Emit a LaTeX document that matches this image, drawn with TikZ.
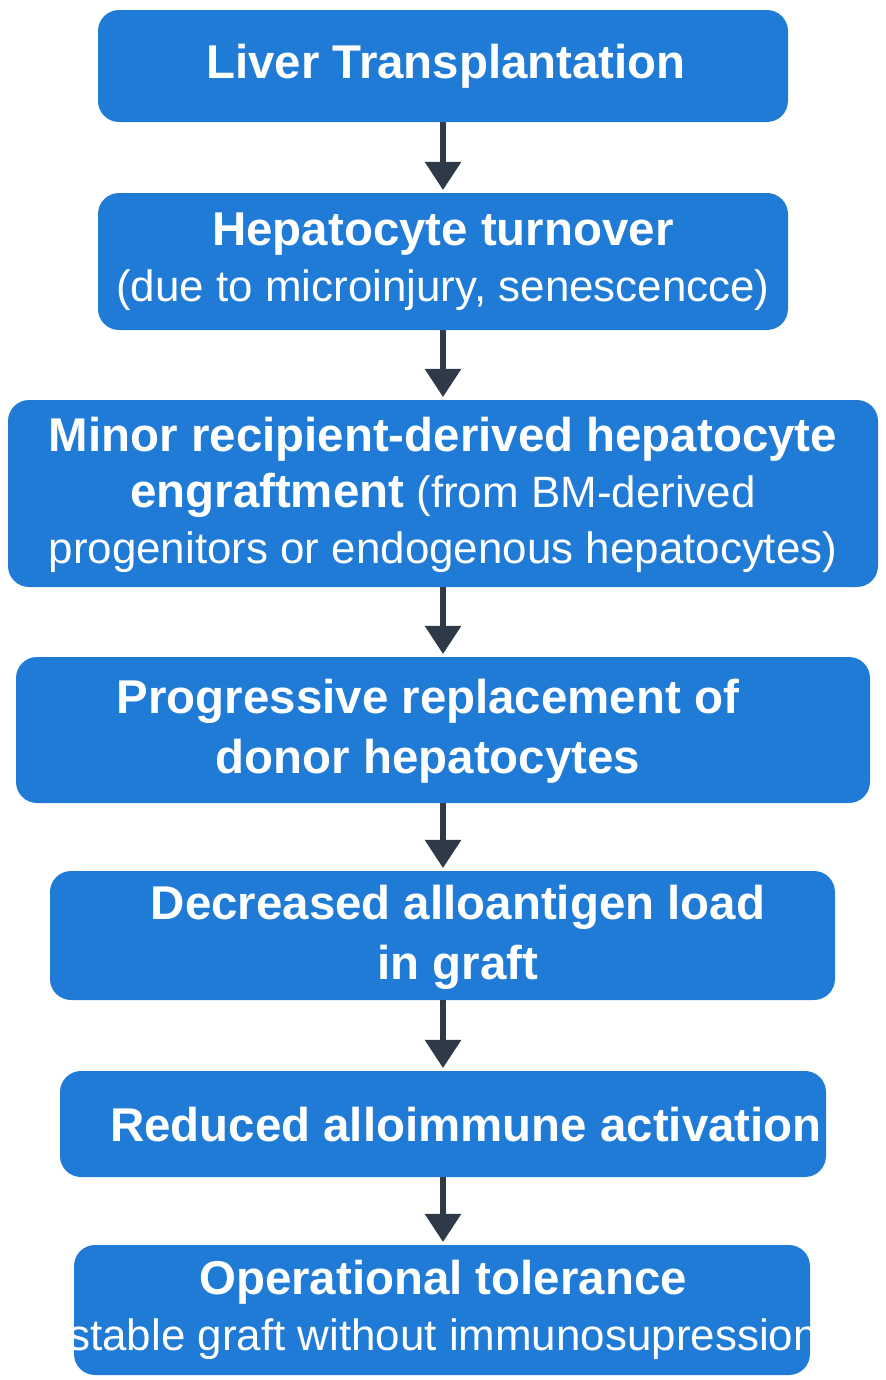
\documentclass[tikz,border=0pt]{standalone}
\usepackage{fontspec}
\setmainfont{Liberation Sans}
\usetikzlibrary{arrows.meta}
\definecolor{boxblue}{HTML}{1F7BD6}
\definecolor{arr}{HTML}{2E3A48}
\begin{document}
\begin{tikzpicture}[x=0.02cm,y=-0.02cm,
  bx/.style={fill=boxblue,draw=none,rounded corners=12pt},
  tx/.style={text=white,align=center,font=\fontsize{25}{32}\selectfont},
  bt/.style={text=white,align=center,font=\fontsize{27}{34}\selectfont\bfseries},
  ar/.style={draw=arr,line width=3.2pt,-{Triangle[length=16pt,width=20pt]}}]
\useasboundingbox (0,0) rectangle (886,1380);
\fill[white] (0,0) rectangle (886,1380);
\path[bx] (98,10) rectangle (788,122);
\node[bt] (b1) at (446,66) {Liver Transplantation};
\path[bx] (98,193) rectangle (788,330);
\node[tx] (b2) at (443,262) {{\fontsize{27}{32}\selectfont\bfseries Hepatocyte turnover}\\(due to microinjury, senescencce)};
\path[bx] (8,400) rectangle (878,587);
\node[tx] (b3) at (443,495) {{\fontsize{27}{32}\selectfont\bfseries Minor recipient-derived hepatocyte}\\{\fontsize{27}{32}\selectfont\bfseries engraftment} (from BM-derived\\progenitors or endogenous hepatocytes)};
\path[bx] (16,657) rectangle (870,803);
\node[bt] (b4) at (428,731) {Progressive replacement of\\donor hepatocytes};
\path[bx] (50,871) rectangle (835,1000);
\node[bt] (b5) at (458,937) {Decreased alloantigen load\\in graft};
\path[bx] (60,1071) rectangle (826,1177);
\node[bt] (b6) at (466,1125) {Reduced alloimmune activation};
\path[bx] (74,1245) rectangle (810,1375);
\node[tx] (b7) at (443,1310) {{\fontsize{27}{32}\selectfont\bfseries Operational tolerance}\\(stable graft without immunosupression)};
\coordinate (a1s) at (443,122); \coordinate (a1e) at (443,190);
\coordinate (a2s) at (443,330); \coordinate (a2e) at (443,397);
\coordinate (a3s) at (443,587); \coordinate (a3e) at (443,654);
\coordinate (a4s) at (443,803); \coordinate (a4e) at (443,868);
\coordinate (a5s) at (443,1000); \coordinate (a5e) at (443,1068);
\coordinate (a6s) at (443,1177); \coordinate (a6e) at (443,1242);
\foreach \i in {1,...,6} \draw[ar] (a\i s) -- (a\i e);
\end{tikzpicture}
\end{document}
